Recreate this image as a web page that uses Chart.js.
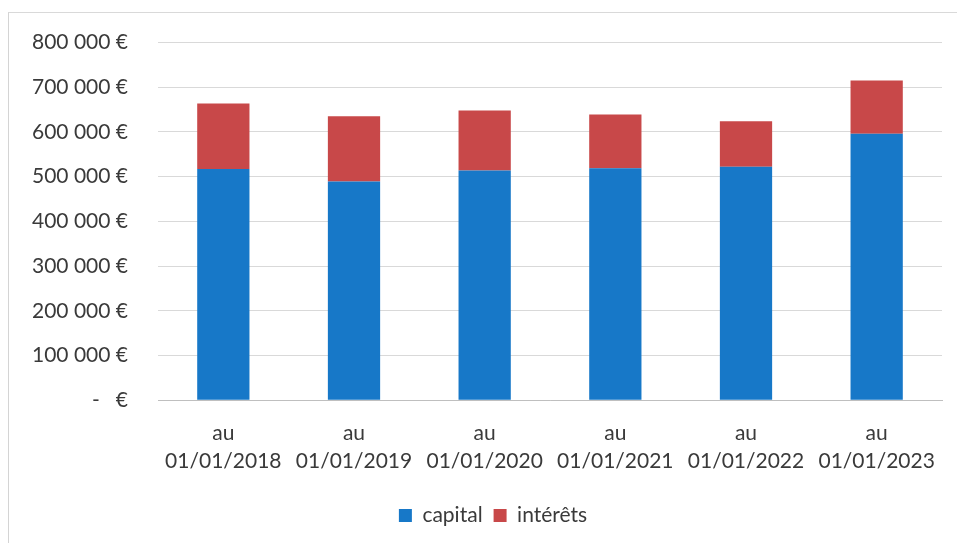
<!DOCTYPE html>
<html>
<head>
<meta charset="utf-8">
<script src="https://cdn.jsdelivr.net/npm/chart.js@4/dist/chart.umd.min.js"></script>
<style>
  html, body { margin: 0; padding: 0; background: #fff; }
  #wrap { position: absolute; left: 0; top: 0; width: 957px; height: 543px; }
  #frame { position: absolute; left: 8px; top: 12px; width: 960px; height: 540px; border-left: 1px solid #d4d4d4; border-top: 1px solid #d9d9d9; }
</style>
</head>
<body>
<div id="wrap">
  <div id="frame"></div>
  <canvas id="chart" width="957" height="543"></canvas>
</div>
<script>
// dates des situations
const categories = ['01/01/2018', '01/01/2019', '01/01/2020', '01/01/2021', '01/01/2022', '01/01/2023']
// capital restant (€)
const capital = [517000, 489000, 514000, 519000, 522000, 596000]
// intérêts (€)
const interets = [147000, 146000, 134000, 120000, 102000, 119000]
const yTicks = [0, 100000, 200000, 300000, 400000, 500000, 600000, 700000, 800000]

const fontFam = 'Lato, "Open Sans", sans-serif'
const textCol = '#3a3a3a'

function euro(v) {
    if (v === 0) return '-   €'
    return String(v).replace(/\B(?=(\d{3})+(?!\d))/g, ' ') + ' €'
}

// the original legend sits a bit right of the page centre
const shiftLegend = {
    id: 'shiftLegend',
    afterLayout(chart) {
        chart.legend.left += 22
        chart.legend.right += 22
    }
}

const ctx = document.getElementById('chart').getContext('2d')
const chart = new Chart(ctx, {
    type: 'bar',
    data: {
        labels: categories.map(c => ['au', c]),
        datasets: [{
                label: 'capital',
                data: capital,
                backgroundColor: '#1778c8',
                barPercentage: 0.4,
                categoryPercentage: 1
            },
            {
                label: 'intérêts',
                data: interets,
                backgroundColor: '#c84849',
                barPercentage: 0.4,
                categoryPercentage: 1
            }
        ]
    },
    plugins: [shiftLegend],
    options: {
        responsive: false,
        animation: false,
        layout: { padding: { top: 30, right: 15, bottom: 7, left: 0 } },
        plugins: {
            tooltip: { enabled: false },
            legend: {
                position: 'bottom',
                labels: {
                    font: { family: fontFam, size: 21 },
                    color: textCol,
                    boxWidth: 13,
                    boxHeight: 13,
                    padding: 11
                }
            }
        },
        scales: {
            x: {
                stacked: true,
                grid: { display: false, drawTicks: false },
                border: { color: '#bfbfbf', width: 1 },
                ticks: {
                    font: { family: fontFam, size: 21, lineHeight: 1.33 },
                    color: textCol,
                    padding: 19,
                    maxRotation: 0
                }
            },
            y: {
                stacked: true,
                min: 0,
                max: 800000,
                afterFit: function(scale) { scale.width = 158 },
                afterBuildTicks: function(scale) {
                    scale.ticks = yTicks.map(v => ({ value: v }))
                },
                grid: { color: '#d9d9d9', drawTicks: false },
                border: { display: false },
                ticks: {
                    font: { family: fontFam, size: 21 },
                    color: textCol,
                    padding: 30,
                    callback: function(value) { return euro(value) }
                }
            }
        }
    }
})
</script>
</body>
</html>
